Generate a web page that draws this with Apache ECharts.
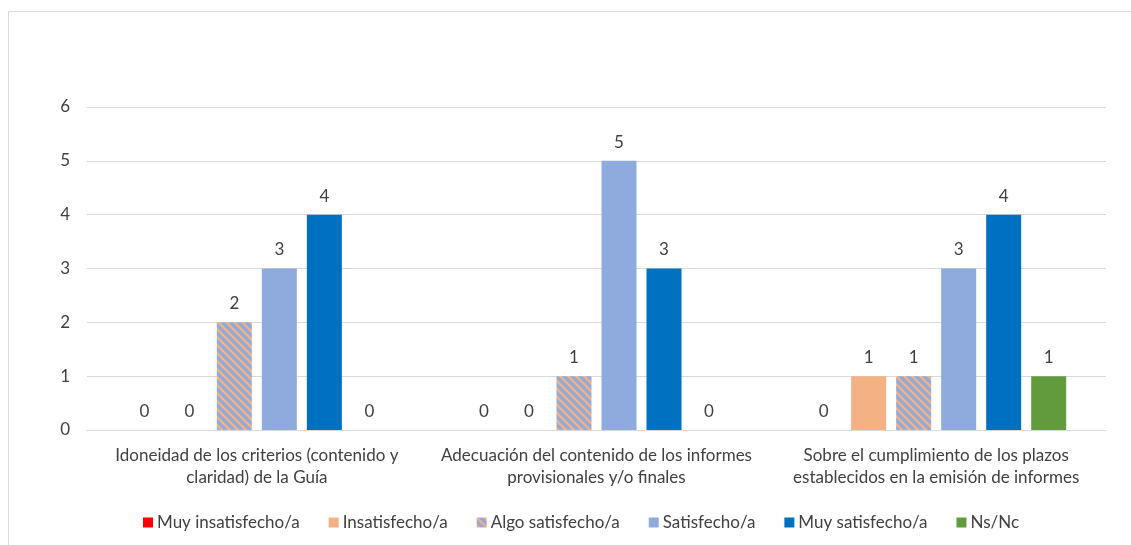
<!DOCTYPE html>
<html><head><meta charset="utf-8">
<script src="https://cdn.jsdelivr.net/npm/echarts@6/dist/echarts.min.js"></script>
<style>html,body{margin:0;padding:0;background:#fff}#c{width:1131px;height:545px}</style>
</head><body><div id="c"></div>
<script>
const categories = ['Idoneidad de los criterios (contenido y\nclaridad) de la Guía', 'Adecuación del contenido de los informes\nprovisionales y/o finales', 'Sobre el cumplimiento de los plazos\nestablecidos en la emisión de informes'];
const seriesNames = ['Muy insatisfecho/a', 'Insatisfecho/a', 'Algo satisfecho/a', 'Satisfecho/a', 'Muy satisfecho/a', 'Ns/Nc'];
const muyInsatisfecho = [0, 0, 0];
const insatisfecho = [0, 0, 1];
const algoSatisfecho = [2, 1, 1];
const satisfecho = [3, 5, 3];
const muySatisfecho = [4, 3, 4];
const nsnc = [0, 0, 1];
const yTicks = [0, 1, 2, 3, 4, 5, 6];

function stripes() {
  const c = document.createElement('canvas');
  c.width = 8; c.height = 8;
  const g = c.getContext('2d');
  g.fillStyle = '#8FAADC'; g.fillRect(0, 0, 8, 8);
  g.strokeStyle = '#F4B183'; g.lineWidth = 2.4;
  g.beginPath();
  g.moveTo(-2, -2); g.lineTo(10, 10);
  g.moveTo(-6, 2); g.lineTo(2, 10);
  g.moveTo(6, -2); g.lineTo(14, 6);
  g.stroke();
  return c;
}
const pattern = { image: stripes(), repeat: 'repeat' };
const colors = ['#FF0000', '#F4B183', pattern, '#8FAADC', '#0070C0', '#629B3E'];
const dataArrays = [muyInsatisfecho, insatisfecho, algoSatisfecho, satisfecho, muySatisfecho, nsnc];
const FONT = 'Lato';
const TXT = '#404040';
const FS = 17;

const chart = echarts.init(document.getElementById('c'), null, { renderer: 'canvas' });
chart.setOption({
  animation: false,
  textStyle: { fontFamily: FONT },
  graphic: [{ type: 'rect', shape: { x: 8.5, y: 11.5, width: 1200, height: 700 }, style: { fill: 'none', stroke: '#d9d9d9', lineWidth: 1 }, silent: true }],
  grid: { left: 87, right: 25, top: 107, bottom: 115, containLabel: false },
  legend: {
    bottom: 9, left: 138, itemWidth: 10, itemHeight: 10, itemGap: 29,
    icon: 'rect',
    textStyle: { fontFamily: FONT, fontSize: FS, color: TXT, padding: [0, 0, 0, -1] },
    data: seriesNames
  },
  xAxis: {
    type: 'category', data: categories,
    axisLine: { lineStyle: { color: '#d9d9d9' } },
    axisTick: { show: false },
    axisLabel: { fontFamily: FONT, fontSize: FS, color: TXT, lineHeight: 22, margin: 15, interval: 0 }
  },
  yAxis: {
    type: 'value', min: 0, max: 6, interval: 1,
    axisLine: { show: false }, axisTick: { show: false },
    splitLine: { lineStyle: { color: '#d9d9d9' } },
    axisLabel: { fontFamily: FONT, fontSize: FS, color: TXT, margin: 17, formatter: v => yTicks.includes(v) ? String(v) : '' }
  },
  series: dataArrays.map((d, i) => ({
    name: seriesNames[i], type: 'bar', data: d,
    barWidth: 35, barGap: '28.6%', barCategoryGap: '23.5%',
    itemStyle: { color: colors[i] },
    label: { show: true, position: 'top', distance: 10, fontFamily: FONT, fontSize: FS, color: TXT }
  }))
});
</script></body></html>
